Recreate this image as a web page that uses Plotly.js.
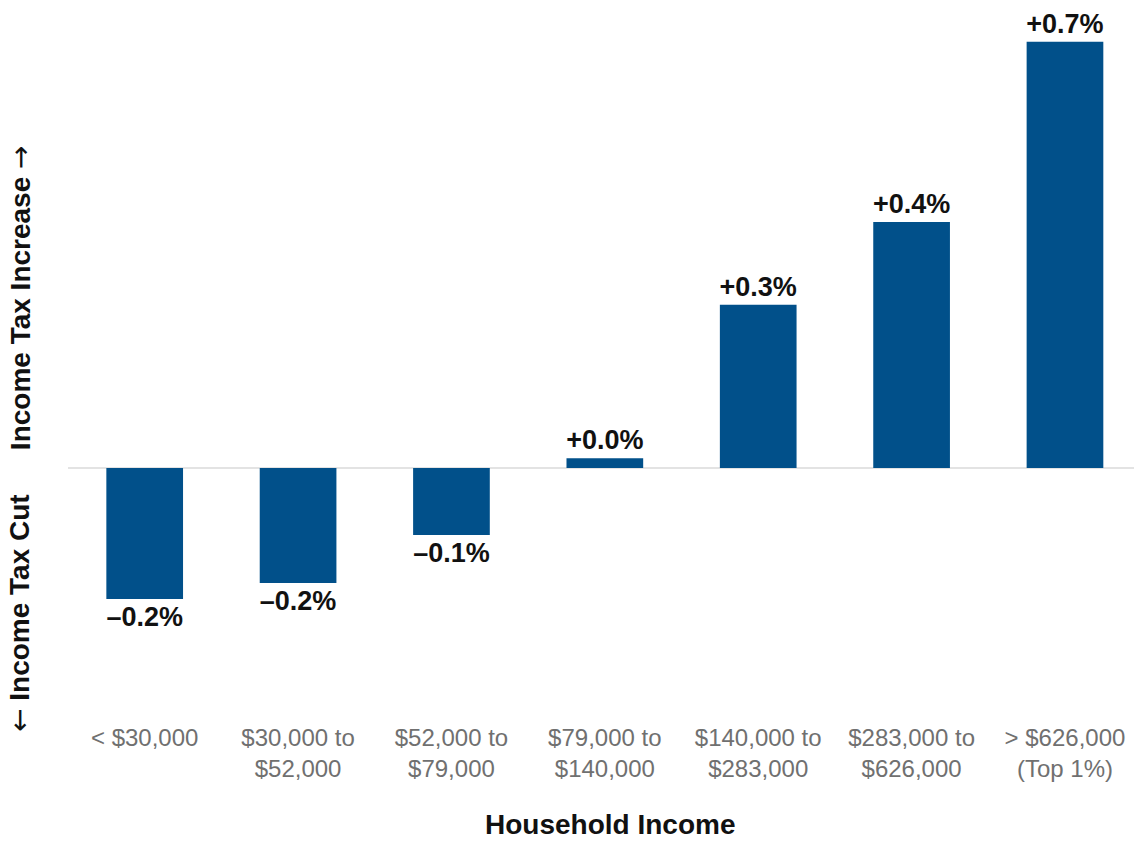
<!DOCTYPE html>
<html>
<head>
<meta charset="utf-8">
<script src="https://cdn.plot.ly/plotly-3.0.1.min.js"></script>
<style>html,body{margin:0;padding:0;background:#fff;}#chart{width:1134px;height:846px;}</style>
</head>
<body>
<div id="chart"></div>
<script>
const categories = ["< $30,000", "$30,000 to<br>$52,000", "$52,000 to<br>$79,000", "$79,000 to<br>$140,000", "$140,000 to<br>$283,000", "$283,000 to<br>$626,000", "> $626,000<br>(Top 1%)"];
const changePct = [-0.215, -0.189, -0.110, 0.016, 0.268, 0.404, 0.70];
const barLabels = ["\u20130.2%", "\u20130.2%", "\u20130.1%", "+0.0%", "+0.3%", "+0.4%", "+0.7%"];
const xTitle = "Household Income";
const yTitleUp = "Income Tax Increase <span style=\"font-family:'DejaVu Sans';font-weight:normal\">\u2192</span>";
const yTitleDown = "<span style=\"font-family:'DejaVu Sans';font-weight:normal\">\u2190</span> Income Tax Cut";

const trace = {
  type: "bar",
  x: categories,
  y: changePct,
  text: barLabels,
  textposition: "outside",
  constraintext: "none",
  cliponaxis: false,
  textfont: {family: "Liberation Sans, Arial, sans-serif", size: 27, color: "#111111", weight: "bold"},
  marker: {color: "#01508a"},
  hoverinfo: "skip"
};

const layout = {
  width: 1134,
  height: 846,
  margin: {l: 68, r: 0, t: 20, b: 146},
  paper_bgcolor: "#ffffff",
  plot_bgcolor: "#ffffff",
  bargap: 0.5,
  showlegend: false,
  font: {family: "Liberation Sans, Arial, sans-serif"},
  xaxis: {
    type: "category",
    range: [-0.5, 6.45],
    showgrid: false,
    showline: false,
    zeroline: false,
    ticks: "",
    tickfont: {size: 24, color: "#707070"},
    ticklabelstandoff: 21,
    automargin: false
  },
  yaxis: {
    range: [-0.381, 0.7356],
    showgrid: false,
    showticklabels: false,
    ticks: "",
    zeroline: true,
    zerolinecolor: "#e3e3e3",
    zerolinewidth: 2,
    automargin: false
  },
  annotations: [
    {text: xTitle, xref: "paper", yref: "paper", x: 0.508, y: -0.158, showarrow: false,
     font: {size: 28, color: "#111111", weight: "bold"}, xanchor: "center", yanchor: "top"},
    {text: yTitleUp, xref: "paper", yref: "paper", x: -0.045, y: 0.591, textangle: -90, showarrow: false,
     font: {size: 28, color: "#111111", weight: "bold"}, xanchor: "center", yanchor: "middle"},
    {text: yTitleDown, xref: "paper", yref: "paper", x: -0.045, y: 0.128, textangle: -90, showarrow: false,
     font: {size: 28, color: "#111111", weight: "bold"}, xanchor: "center", yanchor: "middle"}
  ]
};

Plotly.newPlot("chart", [trace], layout, {displayModeBar: false, staticPlot: true});
</script>
</body>
</html>
